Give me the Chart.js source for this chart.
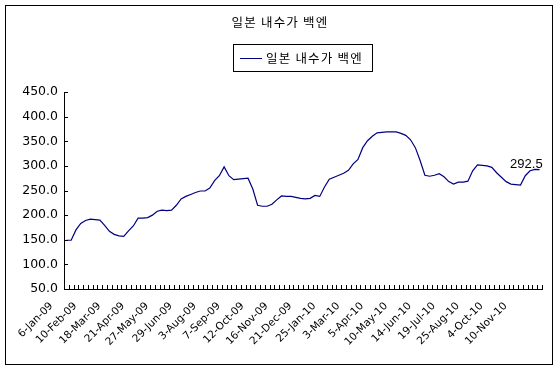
<!DOCTYPE html>
<html>
<head>
<meta charset="utf-8">
<script src="https://cdn.jsdelivr.net/npm/chart.js@4/dist/chart.umd.min.js"></script>
<style>
  html, body { margin: 0; padding: 0; background: #fff; }
  #wrap { width: 558px; height: 370px; }
</style>
</head>
<body>
<div id="wrap"><canvas id="chart" width="558" height="370"></canvas></div>
<script>
// ---------------------------------------------------------------------------
// Data (weekly, Jan 2009 - Dec 2010)
// ---------------------------------------------------------------------------
const titleText = '일본 내수가 백엔';
const seriesName = '일본 내수가 백엔';

// one label shown every 5th week
const tickLabels = [
  '6-Jan-09', '10-Feb-09', '18-Mar-09', '21-Apr-09', '27-May-09',
  '29-Jun-09', '3-Aug-09', '7-Sep-09', '12-Oct-09', '16-Nov-09',
  '21-Dec-09', '25-Jan-10', '3-Mar-10', '5-Apr-10', '10-May-10',
  '14-Jun-10', '19-Jul-10', '25-Aug-10', '4-Oct-10', '10-Nov-10'
];
const labelEvery = 5;

const values = [
  149, 149, 170, 183, 189, 192, 191, 190, 179, 167,
  161, 158, 157, 168, 178, 194, 194, 195, 200, 208,
  210, 209, 210, 220, 233, 238, 242, 246, 249, 249,
  255, 270, 280, 298, 280, 272, 273, 274, 275, 253,
  220, 218, 218, 222, 231, 239, 238, 238, 236, 234,
  233, 234, 240, 238, 257, 273, 277, 281, 285, 291,
  304, 313, 337, 351, 360, 367, 368, 369, 369, 369,
  366, 362, 353, 337, 311, 281, 279, 281, 284, 278,
  268, 263, 267, 267, 269, 290, 302, 301, 300, 297,
  286, 277, 268, 263, 262, 261, 280, 290, 293, 292.5
];

const yMin = 50, yMax = 450, yStep = 50;
const lineColor = '#000080';

// category labels: blank except every 5th week
const categories = values.map((_, i) => i % labelEvery === 0 ? tickLabels[i / labelEvery] : '');

// ---------------------------------------------------------------------------
// Frame, title, boxed legend, inside tick marks, last-value label
// ---------------------------------------------------------------------------
const framePlugin = {
  id: 'frame',
  beforeDraw(chart) {
    const c = chart.ctx;
    c.save();
    c.fillStyle = '#fff';
    c.fillRect(0, 0, chart.width, chart.height);
    c.restore();
  },
  afterDraw(chart) {
    const c = chart.ctx;
    const xs = chart.scales.x, ys = chart.scales.y;
    const area = chart.chartArea;
    c.save();

    // outer border
    c.strokeStyle = '#000';
    c.lineWidth = 1;
    c.strokeRect(5.5, 5.5, 547, 359);

    // title
    c.fillStyle = '#000';
    c.font = '12.5px "Noto Sans CJK KR"';
    c.letterSpacing = '1.2px';
    c.textAlign = 'center';
    c.textBaseline = 'middle';
    c.fillText(titleText, 280, 22);

    // legend box
    c.strokeRect(233.5, 44.5, 139, 27);
    c.strokeStyle = lineColor;
    c.beginPath();
    c.moveTo(240, 58.5);
    c.lineTo(262, 58.5);
    c.stroke();
    c.textAlign = 'left';
    c.fillText(seriesName, 266, 58);
    c.letterSpacing = '0px';

    // tick marks pointing inside the plot
    c.strokeStyle = '#000';
    c.beginPath();
    for (let i = 0; i <= values.length; i++) {
      const x = Math.round(xs.getPixelForValue(i - 0.5)) + 0.5;
      c.moveTo(x, area.bottom);
      c.lineTo(x, area.bottom - 4);
    }
    ys.ticks.forEach(t => {
      const y = Math.round(ys.getPixelForValue(t.value)) + 0.5;
      c.moveTo(area.left, y);
      c.lineTo(area.left + 4, y);
    });
    c.stroke();

    // value label on the last point
    const pts = chart.getDatasetMeta(0).data;
    const last = pts[pts.length - 1];
    c.font = '13px "Liberation Sans", Arial, sans-serif';
    c.textAlign = 'right';
    c.textBaseline = 'bottom';
    c.fillStyle = '#000';
    c.fillText(String(values[values.length - 1]), last.x + 3, last.y + 1);

    c.restore();
  }
};

new Chart(document.getElementById('chart'), {
  type: 'line',
  data: {
    labels: categories,
    datasets: [{
      label: seriesName,
      data: values,
      borderColor: lineColor,
      borderWidth: 1.2,
      pointRadius: 0,
      fill: false,
      tension: 0
    }]
  },
  options: {
    responsive: false,
    animation: false,
    devicePixelRatio: 1,
    layout: { padding: { left: 6, right: 16, top: 92, bottom: 4 } },
    plugins: {
      legend: { display: false },
      title: { display: false },
      tooltip: { enabled: false }
    },
    scales: {
      x: {
        offset: true,
        grid: { display: false },
        border: { display: true, color: '#000', width: 1 },
        afterFit(scale) { scale.height = 77; },
        ticks: {
          autoSkip: false,
          minRotation: 45,
          maxRotation: 45,
          padding: 3,
          labelOffset: -15,
          color: '#000',
          font: { family: '"DejaVu Sans", sans-serif', size: 10.5 }
        }
      },
      y: {
        min: yMin,
        max: yMax,
        grid: { display: false, drawTicks: false },
        border: { display: true, color: '#000', width: 1 },
        afterFit(scale) { scale.width = 58; },
        ticks: {
          stepSize: yStep,
          padding: 6,
          color: '#000',
          font: { family: '"DejaVu Sans", sans-serif', size: 12.5 },
          callback: v => v.toFixed(1)
        }
      }
    }
  },
  plugins: [framePlugin]
});
</script>
</body>
</html>
